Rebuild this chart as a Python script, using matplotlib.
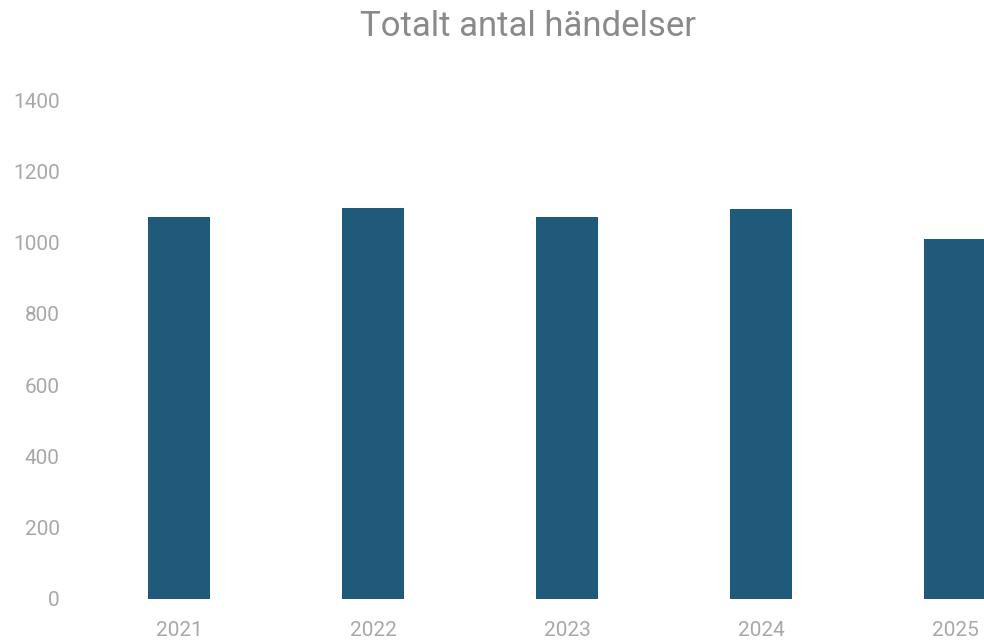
import matplotlib
matplotlib.use("Agg")
import matplotlib.pyplot as plt

years = ["2021", "2022", "2023", "2024", "2025"]
counts = [1072, 1096, 1072, 1094, 1010]
yticks = [0, 200, 400, 600, 800, 1000, 1200, 1400]

plt.rcParams['font.family'] = ['Roboto', 'DejaVu Sans']

fig = plt.figure(figsize=(9.84, 6.41), dpi=100)
ax = fig.add_axes([82/984, 42/641, 970/984, 499/641])
x = list(range(len(years)))
ax.bar(x, counts, width=0.32, color="#1f5a7a")
ax.set_xlim(-0.5, len(years) - 0.5)
ax.set_ylim(0, 1400)
ax.set_xticks(x)
ax.set_xticklabels(years)
ax.set_yticks(yticks)
ax.set_yticklabels([str(v) for v in yticks])
for s in ax.spines.values():
    s.set_visible(False)
ax.tick_params(axis='both', length=0, labelsize=15, labelcolor="#a8a8a8")
ax.tick_params(axis='y', pad=16)
ax.tick_params(axis='x', pad=15.5)
fig.text(528/984, 1 - 36/641, "Totalt antal händelser", ha='center', va='baseline',
         fontsize=25, color="#8a8a8a")
fig.savefig("out.png", dpi=100)
